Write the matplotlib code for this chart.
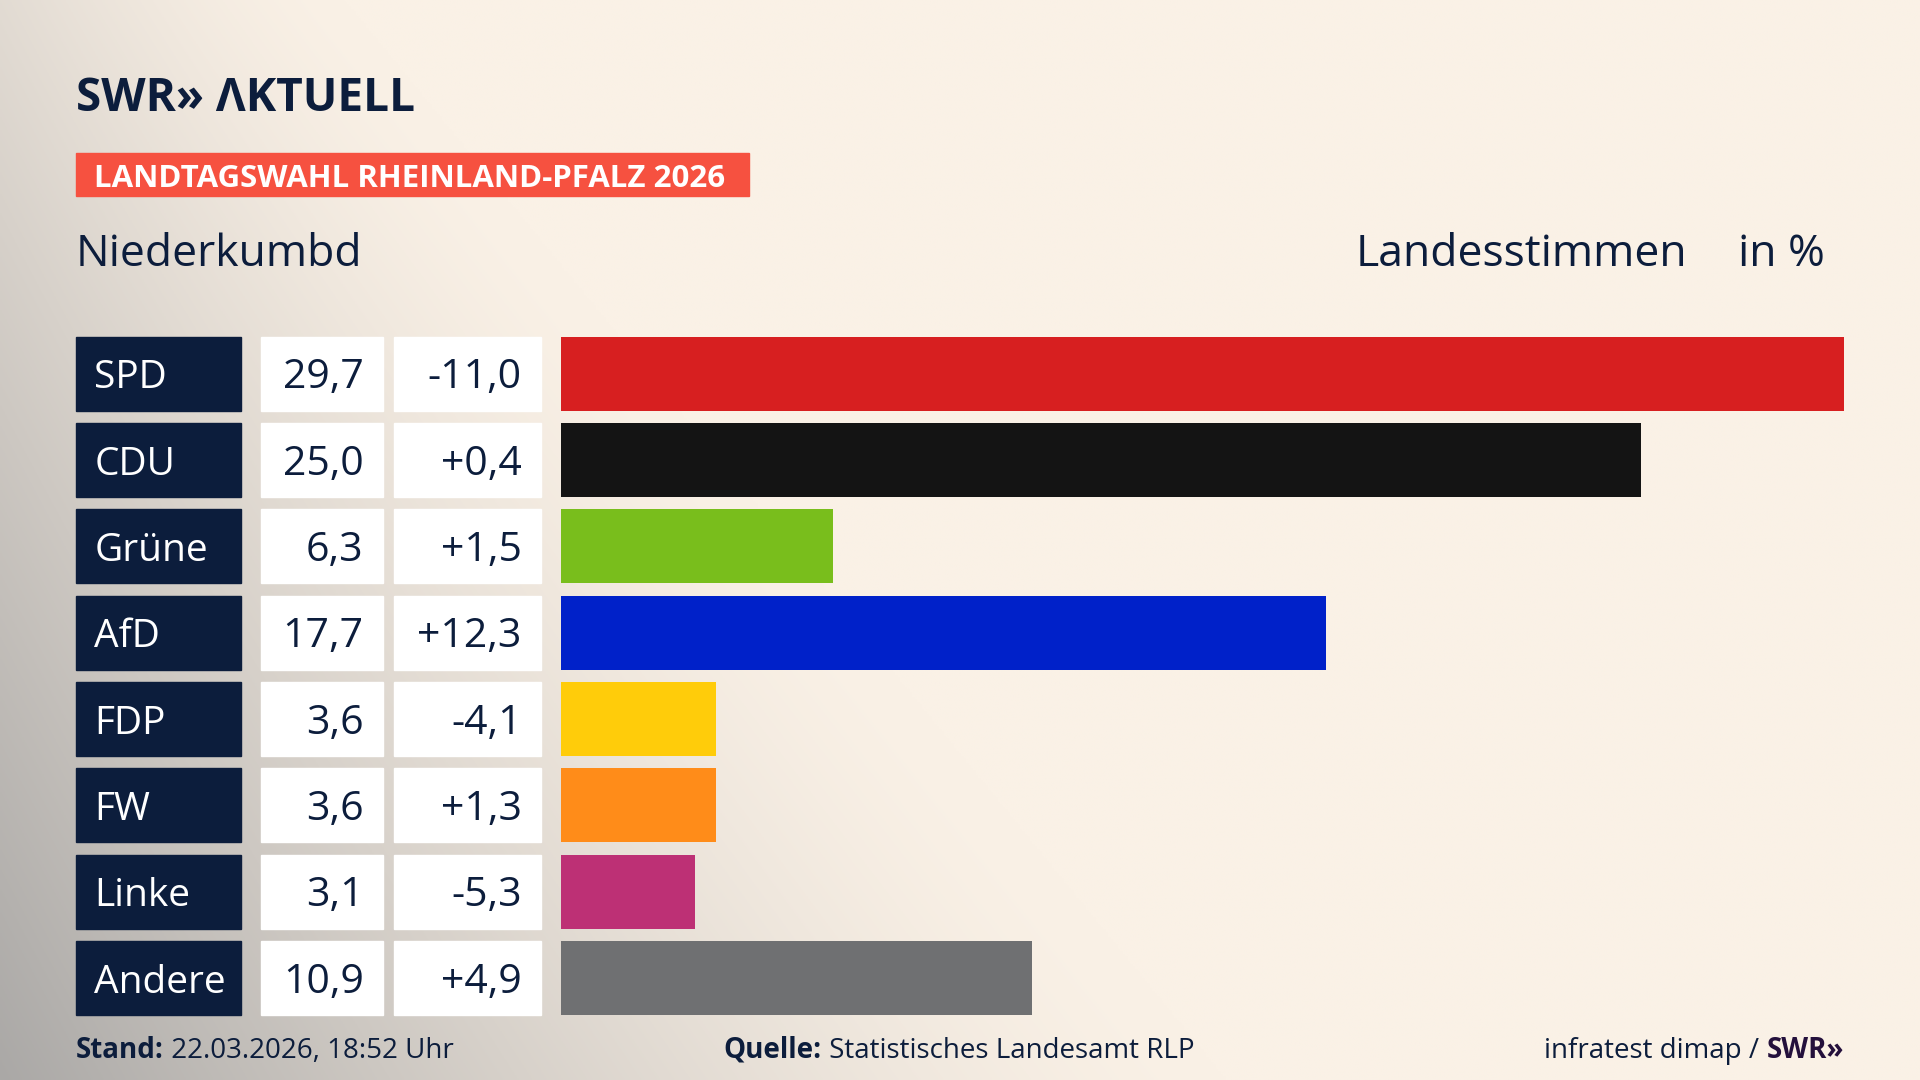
import matplotlib
matplotlib.use("Agg")
import matplotlib.pyplot as plt
import numpy as np
from matplotlib.patches import Rectangle
from matplotlib.transforms import blended_transform_factory

# data
parties = ["SPD", "CDU", "Grüne", "AfD", "FDP", "FW", "Linke", "Andere"]
votes = [29.7, 25.0, 6.3, 17.7, 3.6, 3.6, 3.1, 10.9]
changes = ["-11,0", "+0,4", "+1,5", "+12,3", "-4,1", "+1,3", "-5,3", "+4,9"]
colors = ["#d71f20", "#141414", "#79be1c", "#0021c9", "#ffcc0a", "#ff8c19", "#bd3075", "#6f7072"]

title = "LANDTAGSWAHL RHEINLAND-PFALZ 2026"
place = "Niederkumbd"
navy = "#0c1d3c"
font = "Open Sans"

W, H = 1568, 882  # layout grid (scaled to 1920x1080)
fig = plt.figure(figsize=(19.2, 10.8), dpi=100)
ax0 = fig.add_axes([0, 0, 1, 1])
ax0.set_xlim(0, W)
ax0.set_ylim(H, 0)
ax0.axis("off")

# background: cream with grey shade bottom left
yy, xx = np.mgrid[0:H:2, 0:W:2]
L = 280 + 720 * (yy / H)
w = np.clip(1 - xx / L, 0, 1) ** 1.5 * (0.30 + 0.70 * yy / H)
cream = np.array([250, 241, 230]) / 255
grey = np.array([170, 168, 166]) / 255
img = cream[None, None, :] * (1 - w[..., None]) + grey[None, None, :] * w[..., None]
ax0.imshow(img, extent=(0, W, H, 0), aspect="auto", zorder=0)

# header
ax0.text(62, 91, "SWR» ΛKTUELL", fontsize=33, fontweight="bold", family=font,
         color=navy, va="baseline", ha="left")
ax0.add_patch(Rectangle((62, 125), 550, 35, color="#f65140", zorder=2))
ax0.text(77, 153, title, fontsize=22.5, fontweight="bold", family=font,
         color="white", va="baseline", ha="left", zorder=3)
ax0.text(62, 217, place, fontsize=32, family=font, color=navy, va="baseline")
ax0.text(1378, 217, "Landesstimmen", fontsize=32, family=font, color=navy,
         va="baseline", ha="right")
ax0.text(1490, 217, "in %", fontsize=32, family=font, color=navy,
         va="baseline", ha="right")

# bars
ax = fig.add_axes([458 / W, 1 - 829 / H, 1048 / W, (829 - 275) / H])
ax.patch.set_alpha(0)
h = 60.5 / 70.5
ax.barh(range(len(parties)), votes, height=h, color=colors)
ax.set_xlim(0, max(votes))
ax.set_ylim(len(parties) - 1 + h / 2, -h / 2)
ax.axis("off")

trans = blended_transform_factory(ax0.transData, ax.transData)
fr = 28
fn = 29.5
for i, p in enumerate(parties):
    ax0.add_patch(Rectangle((62, i - h / 2), 135, h, transform=trans, color=navy, zorder=2))
    ax0.add_patch(Rectangle((213, i - h / 2), 100, h, transform=trans, color="white", zorder=2))
    ax0.add_patch(Rectangle((322, i - h / 2), 120, h, transform=trans, color="white", zorder=2))
    ax0.text(77, i + 0.17, p, transform=trans, fontsize=fr, family=font,
             color="white", va="baseline", ha="left", zorder=3)
    ax0.text(297, i + 0.17, f"{votes[i]:.1f}".replace(".", ","), transform=trans,
             fontsize=fn, family=font, color=navy, va="baseline", ha="right", zorder=3)
    ax0.text(426, i + 0.17, changes[i], transform=trans, fontsize=fn, family=font,
             color=navy, va="baseline", ha="right", zorder=3)

# footer
fs = 20
t = ax0.text(62, 864, "Stand:", fontsize=fs, fontweight="bold", family=font, color=navy)
ax0.annotate(" 22.03.2026, 18:52 Uhr", xycoords=t, xy=(1, 0), va="bottom",
             fontsize=fs, family=font, color=navy)
t = ax0.text(591, 864, "Quelle:", fontsize=fs, fontweight="bold", family=font, color=navy)
ax0.annotate(" Statistisches Landesamt RLP", xycoords=t, xy=(1, 0), va="bottom",
             fontsize=fs, family=font, color=navy)
t = ax0.text(1506, 864, "SWR»", fontsize=fs, fontweight="bold", family=font,
             color="#24103c", ha="right")
ax0.annotate("infratest dimap / ", xycoords=t, xy=(0, 0), va="bottom", ha="right",
             fontsize=fs, family=font, color=navy)

fig.savefig("out.png", dpi=100)
